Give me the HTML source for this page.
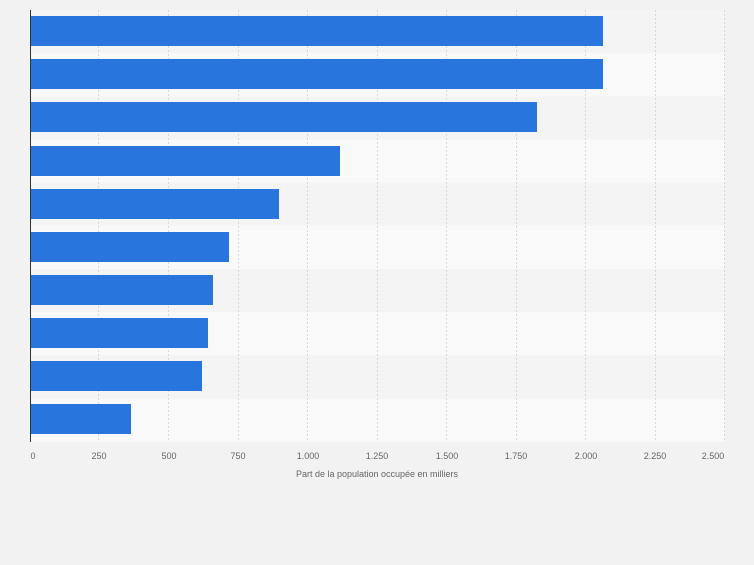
<!DOCTYPE html>
<html><head><style>body{margin:0;background:#f2f2f2}</style></head><body>
<svg width="754" height="560" xmlns="http://www.w3.org/2000/svg" font-family="Liberation Sans, sans-serif">
<rect width="754" height="560" fill="#f2f2f2"/>
<g id="bands">
<rect x="30" y="10" width="695" height="43.2" fill="#f4f4f4"/>
<rect x="30" y="53.2" width="695" height="43.2" fill="#f9f9f9"/>
<rect x="30" y="96.4" width="695" height="43.2" fill="#f4f4f4"/>
<rect x="30" y="139.6" width="695" height="43.2" fill="#f9f9f9"/>
<rect x="30" y="182.8" width="695" height="43.2" fill="#f4f4f4"/>
<rect x="30" y="226" width="695" height="43.2" fill="#f9f9f9"/>
<rect x="30" y="269.2" width="695" height="43.2" fill="#f4f4f4"/>
<rect x="30" y="312.4" width="695" height="43.2" fill="#f9f9f9"/>
<rect x="30" y="355.6" width="695" height="43.2" fill="#f4f4f4"/>
<rect x="30" y="398.8" width="695" height="43.2" fill="#f9f9f9"/>
</g>
<g stroke="#d8d8d8" stroke-dasharray="2,2" stroke-width="1">
<line x1="98.5" y1="10" x2="98.5" y2="442"/><line x1="168.5" y1="10" x2="168.5" y2="442"/>
<line x1="238.5" y1="10" x2="238.5" y2="442"/><line x1="307.5" y1="10" x2="307.5" y2="442"/>
<line x1="377.5" y1="10" x2="377.5" y2="442"/><line x1="446.5" y1="10" x2="446.5" y2="442"/>
<line x1="516.5" y1="10" x2="516.5" y2="442"/><line x1="585.5" y1="10" x2="585.5" y2="442"/>
<line x1="655.5" y1="10" x2="655.5" y2="442"/><line x1="724.5" y1="10" x2="724.5" y2="442"/>
</g>
<g fill="#2876dd">
<rect x="30" y="16" width="573" height="30"/>
<rect x="30" y="59" width="573" height="30"/>
<rect x="30" y="102" width="507" height="30"/>
<rect x="30" y="146" width="310" height="30"/>
<rect x="30" y="189" width="249" height="30"/>
<rect x="30" y="232" width="199" height="30"/>
<rect x="30" y="275" width="183" height="30"/>
<rect x="30" y="318" width="178" height="30"/>
<rect x="30" y="361" width="172" height="30"/>
<rect x="30" y="404" width="101" height="30"/>
</g>
<line x1="30.5" y1="10" x2="30.5" y2="442" stroke="#333" stroke-width="1"/>
<g font-size="9" fill="#666" text-anchor="middle">
<text x="33" y="459">0</text><text x="99" y="459">250</text><text x="169" y="459">500</text>
<text x="238" y="459">750</text><text x="308" y="459">1.000</text><text x="377" y="459">1.250</text>
<text x="447" y="459">1.500</text><text x="516" y="459">1.750</text><text x="586" y="459">2.000</text>
<text x="655" y="459">2.250</text><text x="713" y="459">2.500</text>
<text x="377" y="477">Part de la population occupée en milliers</text>
</g>
</svg>
</body></html>
